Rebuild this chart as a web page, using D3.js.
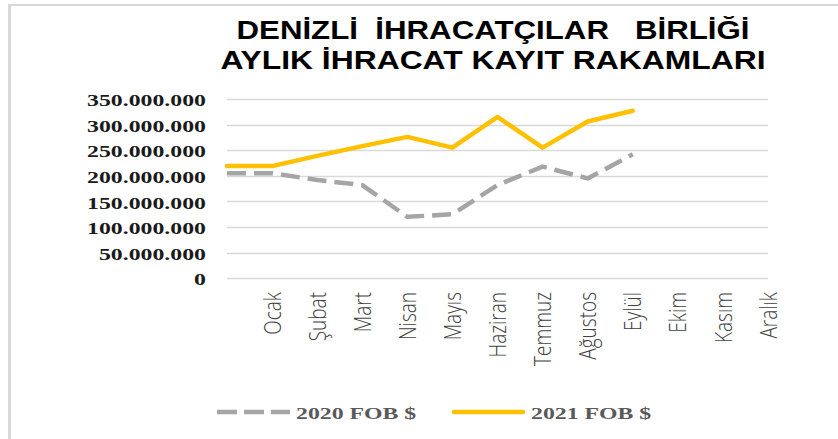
<!DOCTYPE html>
<html><head><meta charset="utf-8">
<script src="https://cdn.jsdelivr.net/npm/d3@7"></script>
<style>html,body{margin:0;padding:0;background:#fff;}svg{display:block;}</style>
</head><body>
<script>
const categories = ["", "Ocak", "Şubat", "Mart", "Nisan", "Mayıs", "Haziran", "Temmuz", "Ağustos", "Eylül", "Ekim", "Kasım", "Aralık"];
const values2020 = [205e6, 205e6, 192e6, 182e6, 120e6, 125e6, 182e6, 218e6, 195e6, 242e6];
const values2021 = [219e6, 219e6, 239e6, 258e6, 276e6, 255e6, 315e6, 255e6, 306e6, 327e6];
const yTicks = [0, 50e6, 100e6, 150e6, 200e6, 250e6, 300e6, 350e6];
const seriesNames = ["2020 FOB $", "2021 FOB $"];
const titleLines = ["DENİZLİ  İHRACATÇILAR   BİRLİĞİ", "AYLIK İHRACAT KAYIT RAKAMLARI"];

const W = 838, H = 439;
const svg = d3.select("body").append("svg").attr("width", W).attr("height", H);

// frame
svg.append("line").attr("x1", 9.5).attr("x2", 9.5).attr("y1", 4).attr("y2", H).attr("stroke", "#d9d9d9").attr("stroke-width", 3);
svg.append("line").attr("x1", 8).attr("x2", W).attr("y1", 5).attr("y2", 5).attr("stroke", "#d9d9d9").attr("stroke-width", 2);

// title
const tW = [513, 545], tY = [39, 69];
titleLines.forEach((t, i) => {
  svg.append("text").attr("x", 493).attr("y", tY[i]).attr("text-anchor", "middle")
    .style("white-space", "pre")
    .attr("font-family", "Liberation Sans, Arial, sans-serif").attr("font-weight", "bold")
    .attr("font-size", 26).attr("fill", "#000")
    .attr("textLength", tW[i]).attr("lengthAdjust", "spacingAndGlyphs")
    .text(t);
});

const x = d3.scalePoint().domain(d3.range(categories.length)).range([227, 768]);
const y = d3.scaleLinear().domain([0, 350e6]).range([278.3, 99]);
const fmt = v => d3.format(",")(v).replace(/,/g, ".");

// gridlines
svg.append("g").selectAll("line").data(yTicks).join("line")
  .attr("x1", 227).attr("x2", 768)
  .attr("y1", d => Math.round(y(d)) + 0.5).attr("y2", d => Math.round(y(d)) + 0.5)
  .attr("stroke", "#d9d9d9").attr("stroke-width", 1.3);

// y labels
svg.append("g").selectAll("text").data(yTicks).join("text")
  .attr("transform", d => `translate(206,${y(d)}) scale(1.4,1)`)
  .attr("text-anchor", "end").attr("dy", "0.42em")
  .attr("font-family", "Liberation Serif, Times New Roman, serif").attr("font-weight", "bold")
  .attr("font-size", 17).attr("fill", "#1a1a1a")
  .text(d => fmt(d));

// x labels
svg.append("g").selectAll("text").data(categories.map((c, i) => ({c, i})).filter(d => d.c)).join("text")
  .attr("transform", d => `translate(${x(d.i)},292) scale(1.3,1) rotate(-90)`)
  .attr("text-anchor", "end").attr("dy", "0.35em")
  .attr("font-family", "Open Sans, sans-serif").attr("font-weight", 300)
  .attr("font-size", 19).attr("fill", "#404040")
  .text(d => d.c);

const line = d3.line().x((d, i) => x(i)).y(d => y(d));
svg.append("path").datum(values2020).attr("d", line).attr("fill", "none")
  .attr("stroke", "#a5a5a5").attr("stroke-width", 4.5).attr("stroke-dasharray", "19,8")
  .attr("stroke-linejoin", "round");
svg.append("path").datum(values2021).attr("d", line).attr("fill", "none")
  .attr("stroke", "#ffc000").attr("stroke-width", 4.5).attr("stroke-linecap", "round")
  .attr("stroke-linejoin", "round");

// legend
const lg = svg.append("g");
lg.append("line").attr("x1", 217).attr("x2", 290).attr("y1", 412).attr("y2", 412)
  .attr("stroke", "#a5a5a5").attr("stroke-width", 4.5).attr("stroke-dasharray", "20,7");
lg.append("line").attr("x1", 454).attr("x2", 523).attr("y1", 412).attr("y2", 412)
  .attr("stroke", "#ffc000").attr("stroke-width", 4.5).attr("stroke-linecap", "round");
[[296, seriesNames[0]], [531, seriesNames[1]]].forEach(([lx, t]) => {
  lg.append("text").attr("transform", `translate(${lx},419) scale(1.4,1)`)
    .attr("font-family", "Liberation Serif, Times New Roman, serif").attr("font-weight", "bold")
    .attr("font-size", 17).attr("fill", "#595959").text(t);
});
</script>
</body></html>
